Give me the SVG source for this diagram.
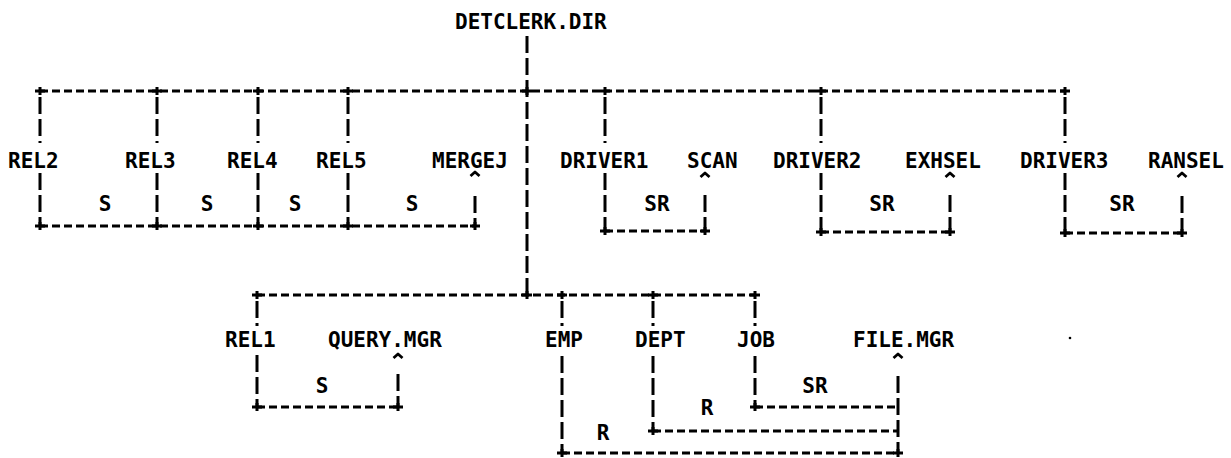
<svg xmlns="http://www.w3.org/2000/svg" width="1231" height="458" viewBox="0 0 1231 458">
<style>
  text { font-family: "DejaVu Sans Mono", "Liberation Mono", monospace; font-weight: bold; font-size: 21px; fill: #000; }
  .lbl { text-anchor: middle; }
  .h { stroke: #000; stroke-width: 3; stroke-dasharray: 8 4; fill: none; }
  .v { stroke: #000; stroke-width: 3; stroke-dasharray: 17 5; fill: none; }
  .p { stroke: #000; stroke-width: 3; fill: none; }
  .c { stroke: #000; stroke-width: 2.8; fill: none; stroke-linejoin: round; }
</style>
<defs>
  <path id="plus" class="p" d="M-5 0 H5 M0 -4 V4"/>
  <path id="caret" class="c" d="M-4.5 4 L0 0 L4.5 4"/>
</defs>
<rect width="1231" height="458" fill="#fff"/>

<g id="connectors">
  <!-- trunk -->
  <path class="v" d="M527 36 V295"/>
  <!-- top bus -->
  <path class="h" d="M40 91 H1065"/>
  <path class="v" d="M40 97 V143 M157 97 V143 M258 97 V143 M348 97 V143 M605 97 V143 M821 97 V143 M1065 97 V143"/>
  <path class="v" d="M40 173 V226 M157 173 V226 M258 173 V226 M348 173 V226"/>
  <path class="v" d="M605 173 V231 M821 173 V232 M1065 173 V233"/>
  <!-- left S bus -->
  <path class="h" d="M40 226 H475"/>
  <path class="v" d="M475 196 V226"/>
  <!-- SCAN -->
  <path class="h" d="M605 231 H705"/>
  <path class="v" d="M705 195 V231"/>
  <!-- EXHSEL -->
  <path class="h" d="M821 232 H950"/>
  <path class="v" d="M950 195 V232"/>
  <!-- RANSEL -->
  <path class="h" d="M1065 233 H1182"/>
  <path class="v" d="M1182 196 V233"/>
  <!-- lower bus -->
  <path class="h" d="M257 295 H755"/>
  <path class="v" d="M257 301 V326 M562 301 V326 M653 301 V326 M755 301 V326"/>
  <!-- QUERY -->
  <path class="v" d="M257 355 V407"/>
  <path class="v" d="M398 374 V407"/>
  <path class="h" d="M257 407 H398"/>
  <!-- FILE.MGR -->
  <path class="v" d="M562 356 V453"/>
  <path class="v" d="M653 356 V431"/>
  <path class="v" d="M755 356 V407"/>
  <path class="v" d="M898 376 V453"/>
  <path class="h" d="M755 407 H898"/>
  <path class="h" d="M653 431 H898"/>
  <path class="h" d="M562 453 H898"/>

  <!-- plus marks -->
  <use href="#plus" x="40" y="91"/><use href="#plus" x="157" y="91"/><use href="#plus" x="258" y="91"/><use href="#plus" x="348" y="91"/>
  <use href="#plus" x="527" y="91"/><use href="#plus" x="605" y="91"/><use href="#plus" x="821" y="91"/><use href="#plus" x="1065" y="91"/>
  <use href="#plus" x="40" y="226"/><use href="#plus" x="157" y="226"/><use href="#plus" x="258" y="226"/><use href="#plus" x="348" y="226"/><use href="#plus" x="475" y="226"/>
  <use href="#plus" x="605" y="231"/><use href="#plus" x="705" y="231"/>
  <use href="#plus" x="821" y="232"/><use href="#plus" x="950" y="232"/>
  <use href="#plus" x="1065" y="233"/><use href="#plus" x="1182" y="233"/>
  <use href="#plus" x="257" y="295"/><use href="#plus" x="527" y="295"/><use href="#plus" x="562" y="295"/><use href="#plus" x="653" y="295"/><use href="#plus" x="755" y="295"/>
  <use href="#plus" x="257" y="407"/><use href="#plus" x="398" y="407"/>
  <use href="#plus" x="755" y="407"/><use href="#plus" x="653" y="431"/>
  <use href="#plus" x="562" y="453"/><use href="#plus" x="898" y="453"/>

  <!-- carets -->
  <use href="#caret" x="475" y="172"/><use href="#caret" x="705" y="173"/><use href="#caret" x="950" y="173"/><use href="#caret" x="1182" y="173"/>
  <use href="#caret" x="398" y="354"/><use href="#caret" x="898" y="354"/>

  <!-- edge labels -->
  <text class="lbl" x="105" y="211">S</text>
  <text class="lbl" x="207" y="211">S</text>
  <text class="lbl" x="295" y="211">S</text>
  <text class="lbl" x="412" y="211">S</text>
  <text class="lbl" x="657" y="211">SR</text>
  <text class="lbl" x="882" y="211">SR</text>
  <text class="lbl" x="1122" y="211">SR</text>
  <text class="lbl" x="322" y="393">S</text>
  <text class="lbl" x="815" y="393">SR</text>
  <text class="lbl" x="707" y="415">R</text>
  <text class="lbl" x="603" y="440">R</text>
</g>

<g id="n-detclerk"><text x="455" y="29">DETCLERK.DIR</text></g>
<g id="n-rel2"><text x="8" y="168">REL2</text></g>
<g id="n-rel3"><text x="125" y="168">REL3</text></g>
<g id="n-rel4"><text x="227" y="168">REL4</text></g>
<g id="n-rel5"><text x="316" y="168">REL5</text></g>
<g id="n-mergej"><text x="432" y="168">MERGEJ</text></g>
<g id="n-driver1"><text x="560" y="168">DRIVER1</text></g>
<g id="n-scan"><text x="687" y="168">SCAN</text></g>
<g id="n-driver2"><text x="773" y="168">DRIVER2</text></g>
<g id="n-exhsel"><text x="905" y="168">EXHSEL</text></g>
<g id="n-driver3"><text x="1020" y="168">DRIVER3</text></g>
<g id="n-ransel"><text x="1148" y="168">RANSEL</text></g>
<g id="n-rel1"><text x="225" y="347">REL1</text></g>
<g id="n-querymgr"><text x="328" y="347">QUERY.MGR</text></g>
<g id="n-emp"><text x="545" y="347">EMP</text></g>
<g id="n-dept"><text x="635" y="347">DEPT</text></g>
<g id="n-job"><text x="737" y="347">JOB</text></g>
<g id="n-filemgr"><text x="853" y="347">FILE.MGR</text></g>

<circle cx="1070" cy="338" r="1.3" fill="#000"/>
</svg>
